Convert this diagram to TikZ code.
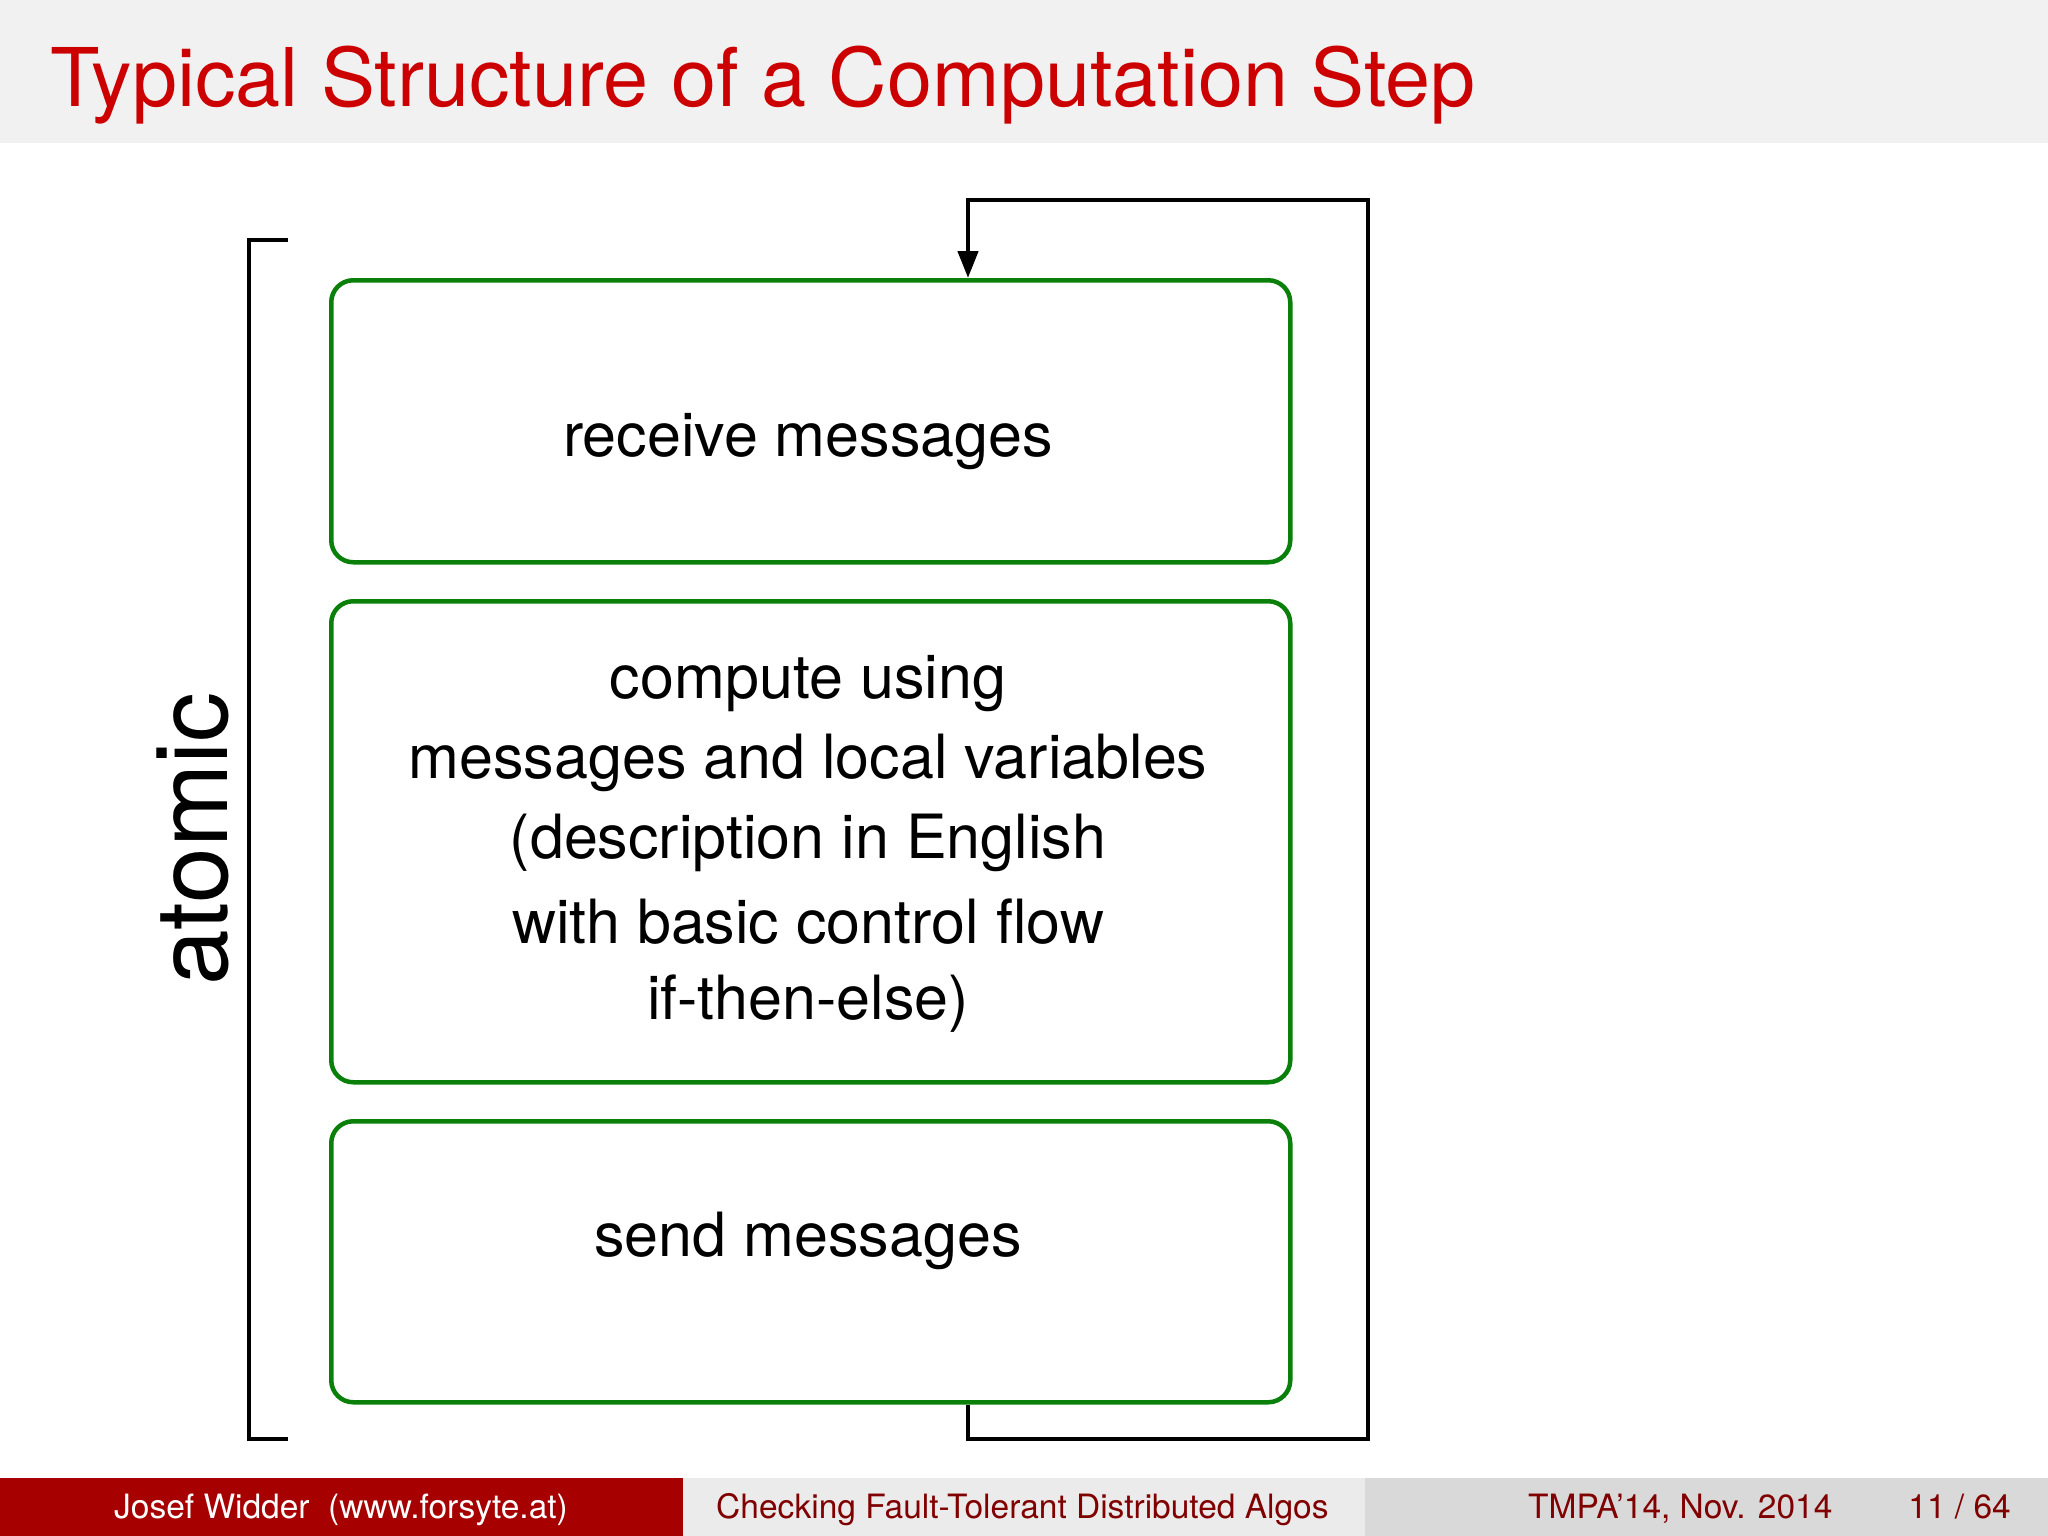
\documentclass[tikz,border=0pt]{standalone}
\usepackage{fontspec}
\setmainfont{TeX Gyre Heros}
\usetikzlibrary{arrows.meta}
\definecolor{titlered}{HTML}{CC0000}
\definecolor{titlebg}{HTML}{F1F1F1}
\definecolor{boxgreen}{HTML}{0A800A}
\definecolor{footred}{HTML}{A60000}
\definecolor{footmid}{HTML}{EBEBEB}
\definecolor{footright}{HTML}{D9D9D9}
\definecolor{foottext}{HTML}{800000}
\begin{document}
\begin{tikzpicture}[x=1pt,y=-1pt,
  stepbox/.style={draw=boxgreen, line width=4.5pt, rounded corners=22pt, inner sep=0pt, anchor=north west},
  boxtext/.style={anchor=base, inner sep=0pt, align=center, font=\fontsize{61}{80}\selectfont},
  conn/.style={draw=black, line width=4.5pt, line join=miter},
  foottxt/.style={inner sep=0pt, font=\fontsize{33.5}{36}\selectfont}]
\useasboundingbox (0,0) rectangle (2048,1536);
\fill[white] (0,0) rectangle (2048,1536);
% title band
\fill[titlebg] (0,0) rectangle (2048,143);
\node[anchor=base west, inner sep=0pt, text=titlered, font=\fontsize{81}{90}\selectfont] (title) at (50,107) {Typical Structure of a Computation Step};
% boxes
\node[stepbox, minimum width=959pt, minimum height=282pt] (recv) at (329,278) {};
\node[stepbox, minimum width=959pt, minimum height=481pt] (comp) at (329,599) {};
\node[stepbox, minimum width=959pt, minimum height=281pt] (send) at (329,1119) {};
\node[boxtext] (recvt) at (808,456) {receive messages};
\node[boxtext] (compt) at (808,1019) {compute using\\messages and local variables\\(description in English\\[5pt]with basic control flow\\[-4pt]if-then-else)};
\node[boxtext] (sendt) at (808,1256) {send messages};
% feedback loop
\coordinate (loopTL) at (968,200);
\coordinate (loopBR) at (1368,1439);
\draw[conn, -{Triangle[width=20pt,length=27pt]}] (send.south -| loopTL) |- (loopBR) |- (loopTL) -- (recv.north -| loopTL);
% bracket
\coordinate (brT) at (288,240);
\coordinate (brB) at (288,1439);
\draw[conn] (brT) -- (249,240) -- (249,1439) -- (brB);
\node[rotate=90, anchor=base, inner sep=0pt, font=\fontsize{100}{110}\selectfont] (atomic) at (227,839) {atomic};
% footer
\fill[footred] (0,1478) rectangle (682.67,1536);
\fill[footmid] (682.67,1478) rectangle (1365.33,1536);
\fill[footright] (1365.33,1478) rectangle (2048,1536);
\node[foottxt, anchor=base, text=white] (author) at (341,1518) {Josef Widder~~(www.forsyte.at)};
\node[foottxt, anchor=base west, text=foottext] (talk) at (716,1518) {Checking Fault-Tolerant Distributed Algos};
\node[foottxt, anchor=base west, text=foottext] (conf) at (1528,1518) {TMPA’14, Nov. 2014};
\node[foottxt, anchor=base east, text=foottext] (page) at (2011,1518) {11 / 64};
\end{tikzpicture}
\end{document}
